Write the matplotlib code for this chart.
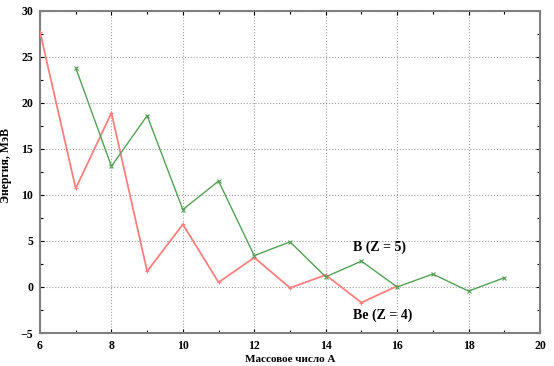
import matplotlib
matplotlib.use("Agg")
import matplotlib.pyplot as plt
from matplotlib.ticker import MultipleLocator

# Be (Z = 4)
be_a = [6, 7, 8, 9, 10, 11, 12, 13, 14, 15, 16]
be_e = [27.7, 10.7, 18.9, 1.7, 6.8, 0.5, 3.2, -0.1, 1.3, -1.7, 0.1]
# B (Z = 5)
b_a = [7, 8, 9, 10, 11, 12, 13, 14, 15, 16, 17, 18, 19]
b_e = [23.8, 13.1, 18.6, 8.4, 11.5, 3.4, 4.9, 1.1, 2.8, 0.0, 1.4, -0.45, 1.0]

plt.rcParams['font.family'] = ['Liberation Serif', 'DejaVu Serif']
plt.rcParams['font.weight'] = 'bold'

fig = plt.figure(figsize=(5.54, 3.66), dpi=100)
ax = fig.add_axes([40 / 554, 33 / 366, 500 / 554, 322.3 / 366])

ax.plot(be_a, be_e, color='#ff7f7f', lw=1.3, marker='+', ms=3, mew=0.8, zorder=3)
ax.plot(b_a, b_e, color='#55a055', lw=1.0, marker='x', ms=3, mew=0.8, zorder=3)

ax.set_xlim(6, 20)
ax.set_ylim(-5, 30)
ax.xaxis.set_major_locator(MultipleLocator(2))
ax.xaxis.set_minor_locator(MultipleLocator(1))
ax.yaxis.set_major_locator(MultipleLocator(5))
ax.yaxis.set_minor_locator(MultipleLocator(2.5))
ax.grid(True, which='major', color='#a0a0a0', ls=':', lw=0.8)
ax.tick_params(which='both', direction='in', top=True, right=True,
               color='black', labelsize=8.5)
ax.tick_params(which='major', length=3, width=0.8)
ax.tick_params(axis='x', which='major', pad=5)
ax.tick_params(axis='y', which='major', pad=5)
ax.tick_params(which='minor', length=2, width=0.8)
for s in ax.spines.values():
    s.set_color('#808080')
    s.set_linewidth(1.5)

ax.set_xlabel('Массовое число А', fontsize=8, fontweight='bold', labelpad=2)
ax.set_ylabel('Энергия, МэВ', fontsize=8.5, fontweight='bold')
ax.yaxis.set_label_coords(-0.056, 0.52)

ax.text(14.77, 4.35, 'B (Z = 5)', fontsize=10, fontweight='bold', ha='left', va='center')
ax.text(14.77, -3.1, 'Be (Z = 4)', fontsize=10, fontweight='bold', ha='left', va='center')

fig.savefig('out.png', dpi=100)
